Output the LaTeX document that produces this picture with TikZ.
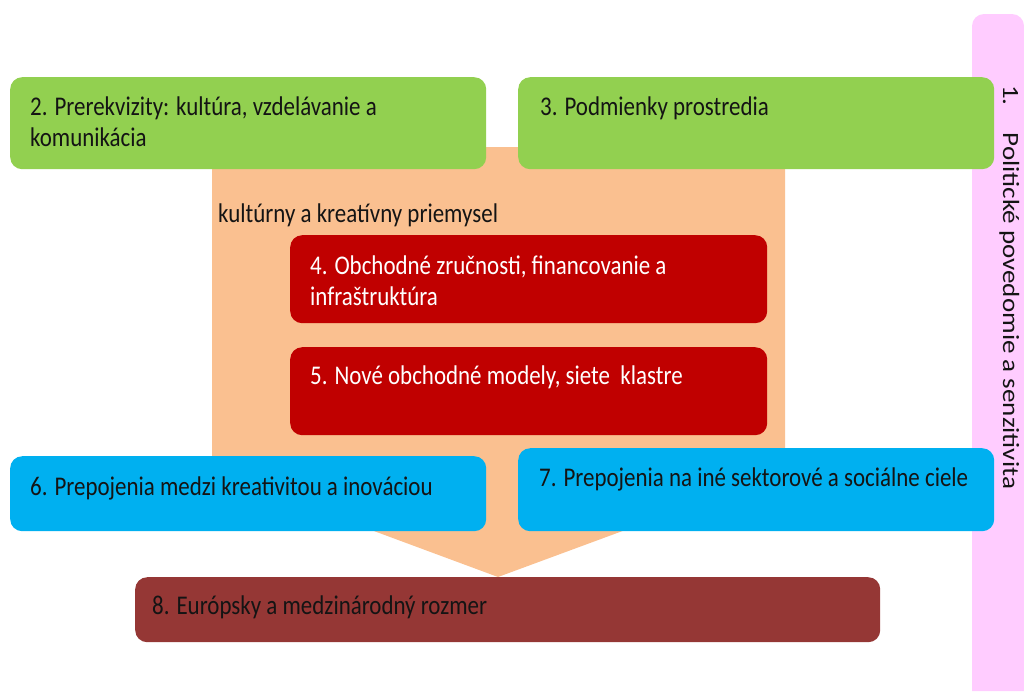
\documentclass[tikz,border=0pt]{standalone}
\usepackage{fontspec}
\setmainfont{Carlito}[FakeStretch=0.85]
\newfontfamily\vertfont{Carlito}[FakeStretch=1.16]
\usetikzlibrary{positioning}
\definecolor{kkgreen}{RGB}{146, 208, 80}
\definecolor{kkorange}{RGB}{250, 192, 144}
\definecolor{kkred}{RGB}{192, 0, 0}
\definecolor{kkblue}{RGB}{0, 176, 240}
\definecolor{kkbrown}{RGB}{149, 55, 53}
\definecolor{kkpink}{RGB}{255, 204, 255}
\definecolor{kktext}{RGB}{20, 20, 20}

\begin{document}
\begin{tikzpicture}[x=1pt, y=-1pt,
      box/.style={rectangle, rounded corners=12pt, anchor=north west, inner sep=0pt},
      txt/.style={anchor=base west, align=left, inner sep=0pt, text=kktext, font=\fontsize{27}{31}\selectfont},
      wtxt/.style={txt, text=white}
    ]
      \useasboundingbox (0,0) rectangle (1024,691);

      % side bar and big arrow
      \fill[kkpink, rounded corners=12pt] (972,691) -- (972,14) -- (1024,14) [sharp corners] -- (1024,691) -- cycle;
      \node[txt, rotate=-90, font=\vertfont\fontsize{23.3}{28}\selectfont] (T1) at (1003,85) {1.\hspace{27pt}Politické povedomie a senzitivita};
      \fill[kkorange] (212,147) -- (785,147) -- (785,471) -- (498,577) -- (212,471) -- cycle;
      \node[txt] (K) at (218,222) {kultúrny a kreatívny priemysel};

      \node[box, fill=kkgreen, minimum width=476pt, minimum height=92pt] (B2) at (10,77) {};
      \node[box, fill=kkgreen, minimum width=476pt, minimum height=92pt] (B3) at (518,77) {};
      \node[box, fill=kkred, minimum width=477pt, minimum height=88pt] (B4) at (290,235) {};
      \node[box, fill=kkred, minimum width=477pt, minimum height=88pt] (B5) at (290,347) {};
      \node[box, fill=kkblue, minimum width=476pt, minimum height=75pt] (B6) at (10,456) {};
      \node[box, fill=kkblue, minimum width=476pt, minimum height=83pt] (B7) at (518,448) {};
      \node[box, fill=kkbrown, minimum width=745pt, minimum height=65pt] (B8) at (135,577) {};

      % texts (base = last line)
      \node[txt] (T2) at (30,146) {2. Prerekvizity: kultúra, vzdelávanie a\\komunikácia};
      \node[txt] (T3) at (540,115) {3. Podmienky prostredia};
      \node[wtxt] (T4) at (310,305) {4. Obchodné zručnosti, financovanie a\\infraštruktúra};
      \node[wtxt] (T5) at (310,384) {5. Nové obchodné modely, siete\ \ klastre};
      \node[txt] (T6) at (30,495) {6. Prepojenia medzi kreativitou a inováciou};
      \node[txt] (T7) at (539,486) {7. Prepojenia na iné sektorové a sociálne ciele};
      \node[txt] (T8) at (152,614) {8. Európsky a medzinárodný rozmer};
    \end{tikzpicture}
\end{document}
